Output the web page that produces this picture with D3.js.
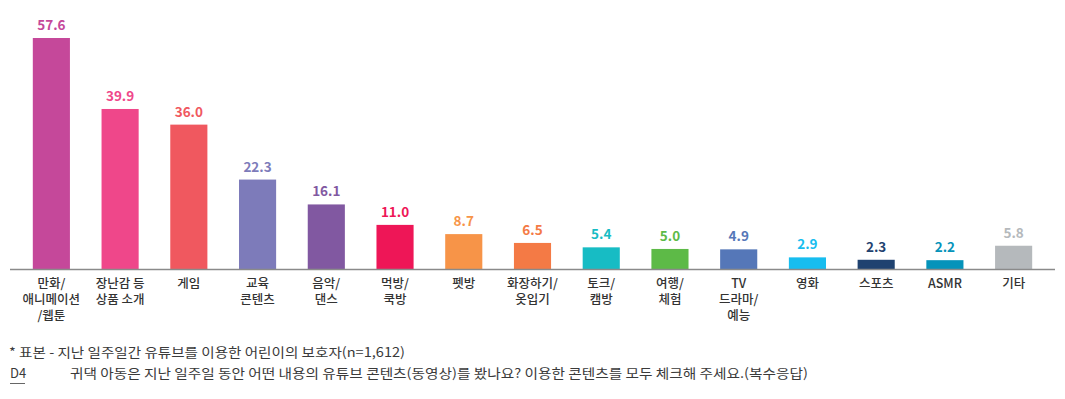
<!DOCTYPE html>
<html>
<head>
<meta charset="utf-8">
<script src="https://cdn.jsdelivr.net/npm/d3@7"></script>
<style>
    body { margin: 0; background: #fff; font-family: "Noto Sans CJK KR", "Noto Sans", sans-serif; }
    .cat { font-size: 12.5px; font-weight: 500; fill: #333; }
    .val { font-size: 13.5px; font-weight: 700; }
    .note { font-size: 13px; fill: #3a3a3a; }
</style>
</head>
<body>
<script>
var width = 1065,
    height = 399;

// categories (line breaks as in the chart), values, colours
var categories = [
    ["만화/", "애니메이션", "/웹툰"],
    ["장난감 등", "상품 소개"],
    ["게임"],
    ["교육", "콘텐츠"],
    ["음악/", "댄스"],
    ["먹방/", "쿡방"],
    ["펫방"],
    ["화장하기/", "옷입기"],
    ["토크/", "캠방"],
    ["여행/", "체험"],
    ["TV", "드라마/", "예능"],
    ["영화"],
    ["스포츠"],
    ["ASMR"],
    ["기타"]
];
var values = [57.6, 39.9, 36.0, 22.3, 16.1, 11.0, 8.7, 6.5, 5.4, 5.0, 4.9, 2.9, 2.3, 2.2, 5.8];
var colors = ["#C5489A", "#EF478A", "#F0585F", "#7D7BBA", "#8158A1", "#EE1657", "#F79448",
    "#F47A45", "#17BCC4", "#5DBA47", "#5577B8", "#17BDEF", "#1F4270", "#0593BA", "#B5B9BC"];

var note1 = "* 표본 - 지난 일주일간 유튜브를 이용한 어린이의 보호자(n=1,612)";
var qCode = "D4";
var question = "귀댁 아동은 지난 일주일 동안 어떤 내용의 유튜브 콘텐츠(동영상)를 봤나요? 이용한 콘텐츠를 모두 체크해 주세요.(복수응답)";

var baseY = 269;

var svg = d3.select("body").append("svg")
    .attr("width", width)
    .attr("height", height);

var x = d3.scaleBand()
    .domain(d3.range(values.length))
    .range([17, 1048])
    .paddingInner(0.46)
    .paddingOuter(0.23);

var y = d3.scaleLinear()
    .domain([0, 57.6])
    .range([baseY, 38]);

// bars
svg.selectAll("rect.bar")
    .data(values)
    .enter().append("rect")
    .attr("class", "bar")
    .attr("x", function(d, i) { return x(i); })
    .attr("y", function(d) { return y(d); })
    .attr("width", x.bandwidth())
    .attr("height", function(d) { return baseY - y(d); })
    .style("fill", function(d, i) { return colors[i]; });

// value labels
svg.selectAll("text.val")
    .data(values)
    .enter().append("text")
    .attr("class", "val")
    .attr("x", function(d, i) { return x(i) + x.bandwidth() / 2; })
    .attr("y", function(d) { return y(d) - 8; })
    .attr("text-anchor", "middle")
    .style("fill", function(d, i) { return colors[i]; })
    .text(function(d) { return d.toFixed(1); });

// baseline
svg.append("line")
    .attr("x1", 10)
    .attr("x2", 1055)
    .attr("y1", baseY + 0.5)
    .attr("y2", baseY + 0.5)
    .style("stroke", "#8a8a8a")
    .style("stroke-width", 1.3);

// category labels, one text per line
var catG = svg.selectAll("g.cat")
    .data(categories)
    .enter().append("g")
    .attr("class", "cat")
    .attr("transform", function(d, i) { return "translate(" + (x(i) + x.bandwidth() / 2) + ",288)"; });

catG.selectAll("text")
    .data(function(d) { return d; })
    .enter().append("text")
    .attr("text-anchor", "middle")
    .attr("y", function(d, i) { return i * 16; })
    .text(function(d) { return d; });

// footnotes
svg.append("text")
    .attr("class", "note")
    .attr("x", 9)
    .attr("y", 357)
    .attr("textLength", 396)
    .attr("lengthAdjust", "spacingAndGlyphs")
    .text(note1);

svg.append("text")
    .attr("class", "note")
    .attr("x", 10)
    .attr("y", 378)
    .text(qCode);

svg.append("line")
    .attr("x1", 10)
    .attr("x2", 25)
    .attr("y1", 383.5)
    .attr("y2", 383.5)
    .style("stroke", "#666")
    .style("stroke-width", 1);

svg.append("text")
    .attr("class", "note")
    .attr("x", 70)
    .attr("y", 378)
    .attr("textLength", 738)
    .attr("lengthAdjust", "spacingAndGlyphs")
    .text(question);
</script>
</body>
</html>
